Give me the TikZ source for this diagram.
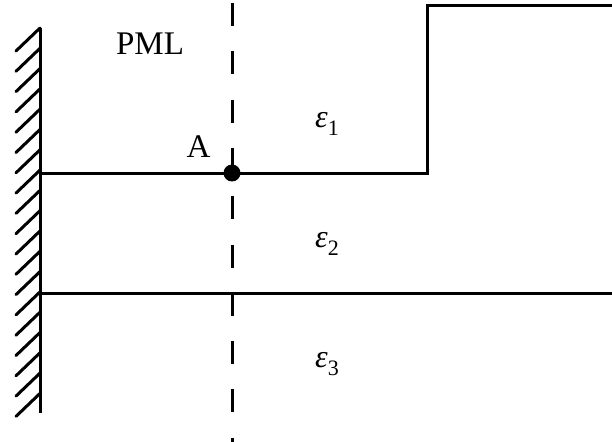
\documentclass[tikz,border=0pt]{standalone}
\usepackage{fontspec}
\setmainfont{Liberation Serif}
\tikzset{
  thick line/.style={line width=3pt},
  hatchline/.style={line width=3pt, line cap=round},
  lbl/.style={inner sep=0pt, anchor=base, font=\fontsize{33}{38}\selectfont},
  epslbl/.style={inner sep=0pt, anchor=base west, font=\fontsize{32}{38}\selectfont},
}
\newcommand{\epsi}[1]{\textit{ε}\raisebox{-8pt}{\fontsize{22}{26}\selectfont #1}}
\begin{document}
\begin{tikzpicture}[x=1pt,y=-1pt]
\useasboundingbox (0,0) rectangle (612,441);
% wall
\coordinate (wtop) at (40,28);
\coordinate (wbot) at (40,413);
\draw[thick line] (wtop) -- (wbot);
\foreach \i in {0,...,18} {
  \draw[hatchline] (40,28+20.3*\i) -- ++(-24,23);
}
% interfaces
\coordinate (i1l) at (40,173);
\coordinate (stepb) at (427,173);
\coordinate (stept) at (427,6);
\coordinate (i1r) at (614,6);
\draw[thick line] (i1l) -- (stepb) -- (stept) -- (i1r);
\coordinate (i2l) at (40,293);
\coordinate (i2r) at (614,293);
\draw[thick line] (i2l) -- (i2r);
% PML boundary
\coordinate (dtop) at (232,3);
\coordinate (dbot) at (232,445);
\draw[line width=3pt, dash pattern=on 23pt off 25.3pt] (dtop) -- (dbot);
% point A
\node[circle, fill=black, inner sep=0pt, minimum size=17pt] (A) at (232,173) {};
\node[lbl] (Alabel) at (198.5,157) {A};
\node[lbl] (PML) at (150,55) {PML};
% permittivities
\node[epslbl] (e1) at (315,127) {\epsi{1}};
\node[epslbl] (e2) at (315,247) {\epsi{2}};
\node[epslbl] (e3) at (315,367) {\epsi{3}};
\end{tikzpicture}
\end{document}
